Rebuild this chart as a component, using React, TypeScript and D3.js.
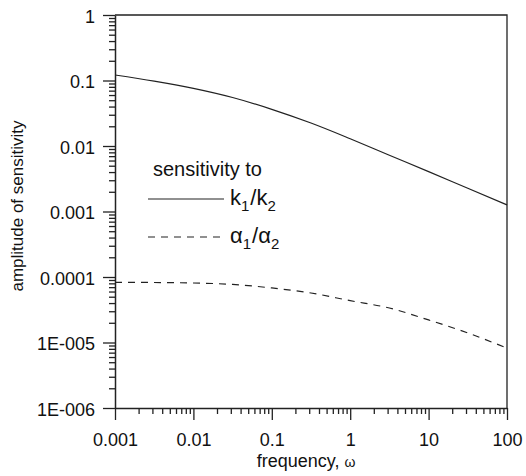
import * as d3 from 'd3';
import React, { useEffect, useRef } from 'react';

// Achsen
const freqTicks = [0.001, 0.01, 0.1, 1, 10, 100];
const freqLabels = ['0.001', '0.01', '0.1', '1', '10', '100'];
const ampTicks = [1, 0.1, 0.01, 0.001, 0.0001, 0.00001, 0.000001];
const ampLabels = ['1', '0.1', '0.01', '0.001', '0.0001', '1E-005', '1E-006'];

const frequency = [0.001, 0.00316, 0.01, 0.0316, 0.1, 0.316, 1, 3.16, 10, 31.6, 100];
const sensK = [0.1213, 0.0977, 0.0759, 0.055, 0.0363, 0.0224, 0.0129, 0.00724, 0.00407, 0.00226, 0.00126];
const sensAlpha = [8.3e-5, 8.24e-5, 8.1e-5, 7.7e-5, 6.8e-5, 5.7e-5, 4.35e-5, 3.36e-5, 2.21e-5, 1.4e-5, 8.2e-6];

const W = 526;
const H = 476;
const margin = { left: 115, right: 19, top: 15, bottom: 68 };
const font = "Arial, 'Liberation Sans', sans-serif";

function App() {
    const ref = useRef(null);

    useEffect(() => {
        const svg = d3.select(ref.current);
        svg.selectAll('*').remove();

        const x = d3.scaleLog().domain([0.001, 100]).range([margin.left, W - margin.right]);
        const y = d3.scaleLog().domain([0.000001, 1]).range([H - margin.bottom, margin.top]);

        const xMinor = x.ticks().filter(v => !freqTicks.some(t => Math.abs(t - v) / t < 1e-6));
        const yMinor = y.ticks().filter(v => !ampTicks.some(t => Math.abs(t - v) / t < 1e-6));

        const bottom = H - margin.bottom;
        const right = W - margin.right;

        // Rahmen oben und rechts
        svg.append('path')
            .attr('d', `M${margin.left},${margin.top}H${right}V${bottom}`)
            .attr('fill', 'none')
            .attr('stroke', '#222')
            .attr('stroke-width', 1.3);

        // x-Achse
        const gx = svg.append('g').attr('transform', `translate(0,${bottom})`);
        gx.call(d3.axisBottom(x).tickValues(xMinor).tickSize(6).tickSizeOuter(0).tickFormat(() => ''));
        gx.call(g => g.select('.domain').remove());
        const gx2 = svg.append('g').attr('transform', `translate(0,${bottom})`);
        gx2.call(d3.axisBottom(x).tickValues(freqTicks).tickSize(12).tickSizeOuter(0)
            .tickFormat((d, i) => freqLabels[i]));

        // y-Achse
        const gy = svg.append('g').attr('transform', `translate(${margin.left},0)`);
        gy.call(d3.axisLeft(y).tickValues(yMinor).tickSize(6).tickSizeOuter(0).tickFormat(() => ''));
        gy.call(g => g.select('.domain').remove());
        const gy2 = svg.append('g').attr('transform', `translate(${margin.left},0)`);
        gy2.call(d3.axisLeft(y).tickValues(ampTicks).tickSize(12).tickSizeOuter(0)
            .tickFormat((d, i) => ampLabels[i]));

        svg.selectAll('.domain').attr('stroke', '#222').attr('stroke-width', 1.5);
        svg.selectAll('.tick line').attr('stroke', '#222').attr('stroke-width', 1.3);
        svg.selectAll('.tick text').attr('fill', '#111').style('font-family', font).style('font-size', '18px');
        gx2.selectAll('.tick text').attr('y', 25).attr('dy', '0.71em');
        gy2.selectAll('.tick text').attr('x', -20).attr('dy', '0.4em');

        // Kurven
        const line = d3.line()
            .x((d, i) => x(frequency[i]))
            .y(d => y(d))
            .curve(d3.curveMonotoneX);

        svg.append('path')
            .attr('d', line(sensK))
            .attr('fill', 'none')
            .attr('stroke', '#222')
            .attr('stroke-width', 1.2);

        svg.append('path')
            .attr('d', line(sensAlpha))
            .attr('fill', 'none')
            .attr('stroke', '#222')
            .attr('stroke-width', 1.2)
            .attr('stroke-dasharray', '7,6');

        // Achsentitel
        svg.append('text')
            .attr('transform', `translate(23,206) rotate(-90)`)
            .attr('text-anchor', 'middle')
            .style('font-family', font)
            .style('font-size', '17px')
            .attr('fill', '#111')
            .text('amplitude of sensitivity');

        const xt = svg.append('text')
            .attr('x', 306)
            .attr('y', 467)
            .attr('text-anchor', 'middle')
            .style('font-family', font)
            .style('font-size', '18px')
            .attr('fill', '#111');
        xt.append('tspan').text('frequency, ');
        xt.append('tspan').style('font-size', '14px').text('ω');

        // Legende
        const leg = svg.append('g').style('font-family', font).attr('fill', '#111');
        leg.append('text').attr('x', 153).attr('y', 176).style('font-size', '20px').text('sensitivity to');
        leg.append('line').attr('x1', 148).attr('x2', 224).attr('y1', 199).attr('y2', 199)
            .attr('stroke', '#222').attr('stroke-width', 1.2);
        leg.append('line').attr('x1', 148).attr('x2', 222).attr('y1', 237).attr('y2', 237)
            .attr('stroke', '#222').attr('stroke-width', 1.2).attr('stroke-dasharray', '7,6');

        const k = leg.append('text').attr('x', 230).attr('y', 205).style('font-size', '22px');
        k.append('tspan').text('k');
        k.append('tspan').attr('dy', 6).style('font-size', '15px').text('1');
        k.append('tspan').attr('dy', -6).attr('dx', 1).text('/k');
        k.append('tspan').attr('dy', 6).style('font-size', '15px').text('2');

        const a = leg.append('text').attr('x', 230).attr('y', 243).style('font-size', '22px');
        a.append('tspan').text('α');
        a.append('tspan').attr('dy', 6).style('font-size', '15px').text('1');
        a.append('tspan').attr('dy', -6).attr('dx', 1).text('/α');
        a.append('tspan').attr('dy', 6).style('font-size', '15px').text('2');
    }, []);

    return (
        <svg ref={ref} width={W} height={H} style={{ position: 'absolute', left: 0, top: 0, background: '#fff' }}></svg>
    );
}

export default App;
